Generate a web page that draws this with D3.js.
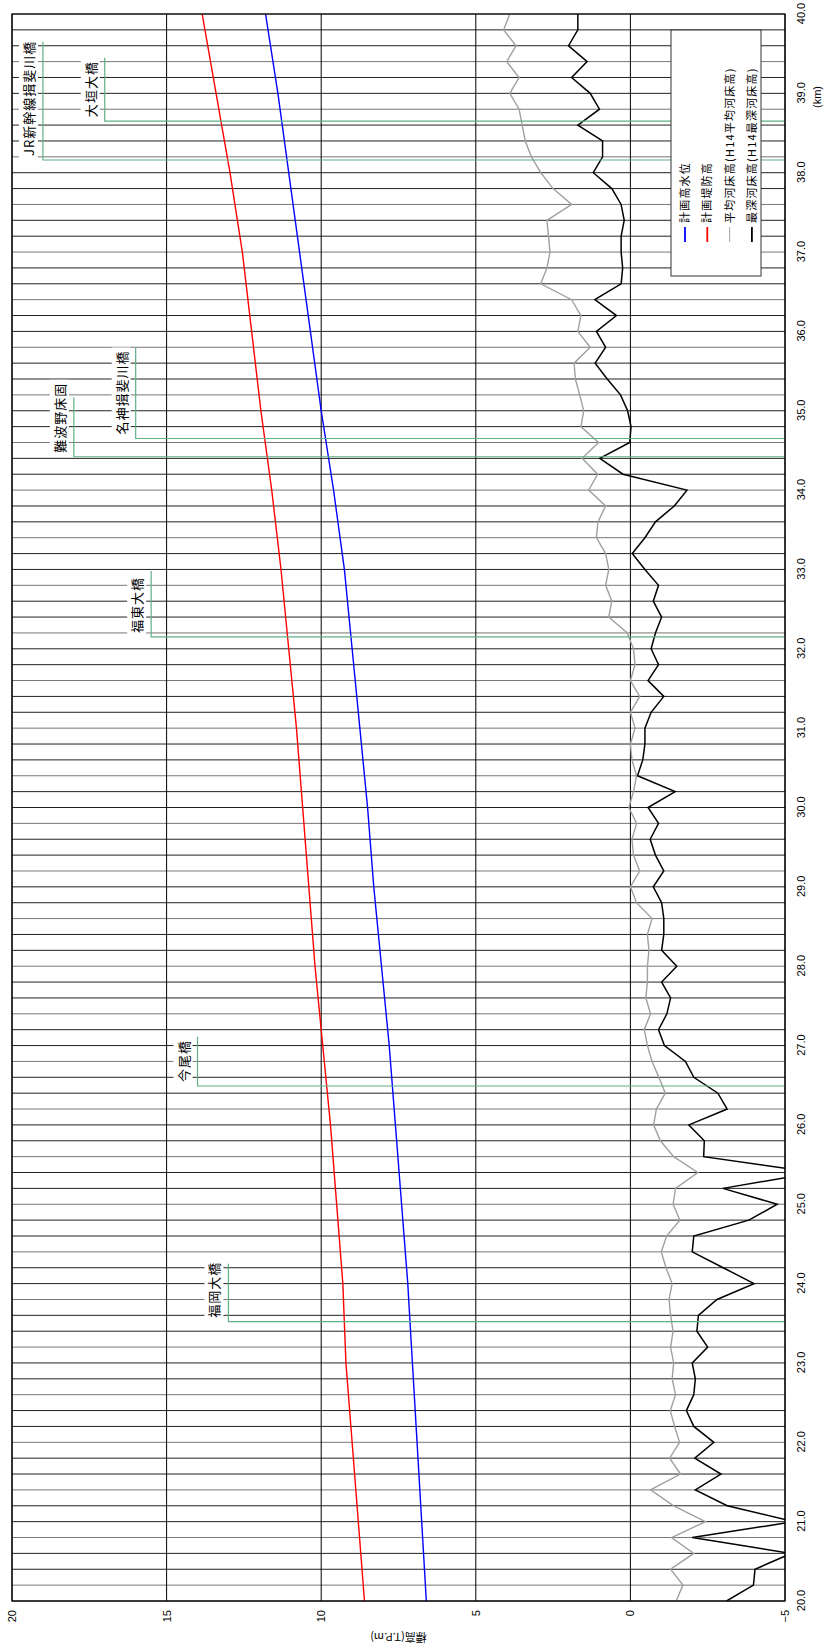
<!DOCTYPE html>
<html>
<head>
<meta charset="utf-8">
<title>縦断図</title>
<script src="https://d3js.org/d3.v7.min.js"></script>
<style>
  body { margin: 0; background: #fff; }
  svg text { font-family: "Liberation Sans", Arial, sans-serif; fill: #000; }
  .jp { font-family: "Noto Sans CJK JP", sans-serif; }
</style>
</head>
<body>
<script>
// 距離標 (km) 0.2km毎
const kmStations = [
  20.0, 20.2, 20.4, 20.6, 20.8, 21.0, 21.2, 21.4, 21.6, 21.8,
  22.0, 22.2, 22.4, 22.6, 22.8, 23.0, 23.2, 23.4, 23.6, 23.8,
  24.0, 24.2, 24.4, 24.6, 24.8, 25.0, 25.2, 25.4, 25.6, 25.8,
  26.0, 26.2, 26.4, 26.6, 26.8, 27.0, 27.2, 27.4, 27.6, 27.8,
  28.0, 28.2, 28.4, 28.6, 28.8, 29.0, 29.2, 29.4, 29.6, 29.8,
  30.0, 30.2, 30.4, 30.6, 30.8, 31.0, 31.2, 31.4, 31.6, 31.8,
  32.0, 32.2, 32.4, 32.6, 32.8, 33.0, 33.2, 33.4, 33.6, 33.8,
  34.0, 34.2, 34.4, 34.6, 34.8, 35.0, 35.2, 35.4, 35.6, 35.8,
  36.0, 36.2, 36.4, 36.6, 36.8, 37.0, 37.2, 37.4, 37.6, 37.8,
  38.0, 38.2, 38.4, 38.6, 38.8, 39.0, 39.2, 39.4, 39.6, 39.8,
  40.0
];
// 平均河床高 (H14)
const avgBed = [
  -1.48, -1.70, -1.30, -2.05, -1.33, -2.43, -1.40, -0.65, -1.62, -1.27,
  -1.59, -1.43, -1.29, -1.46, -1.35, -1.40, -1.30, -1.38, -1.30, -1.25,
  -1.35, -1.15, -1.00, -1.17, -1.60, -1.38, -1.46, -2.18, -1.40, -0.97,
  -0.75, -0.84, -1.13, -0.92, -0.70, -0.55, -0.45, -0.65, -0.50, -0.55,
  -0.55, -0.60, -0.55, -0.70, -0.20, 0.00, -0.30, -0.10, -0.05, -0.20,
  0.05, -0.10, -0.20, -0.05, 0.00, -0.15, 0.00, -0.30, 0.00, -0.15,
  -0.10, 0.10, 0.70, 0.60, 0.80, 0.70, 0.80, 1.10, 1.05, 0.80,
  1.35, 1.06, 1.56, 1.03, 1.60, 1.51, 1.64, 1.78, 1.82, 1.30,
  1.70, 1.60, 1.90, 2.90, 2.70, 2.60, 2.65, 2.70, 1.90, 2.50,
  2.90, 3.20, 3.40, 3.50, 3.60, 3.90, 3.60, 4.00, 3.70, 4.10,
  3.90
];
// 最深河床高 (H14)
const deepBed = [
  -3.11, -3.98, -4.03, -5.20, -2.00, -5.30, -3.13, -2.10, -2.93, -2.08,
  -2.70, -2.05, -1.81, -2.05, -2.10, -2.00, -2.50, -2.15, -2.20, -2.80,
  -4.00, -3.00, -2.00, -2.05, -3.83, -4.75, -2.99, -6.00, -2.37, -2.39,
  -1.89, -3.13, -2.83, -2.05, -1.78, -1.10, -0.91, -1.18, -1.30, -1.01,
  -1.50, -1.01, -1.08, -1.08, -1.01, -0.74, -1.08, -0.81, -0.64, -0.91,
  -0.57, -1.45, -0.23, -0.40, -0.47, -0.47, -0.67, -1.08, -0.57, -0.91,
  -0.67, -0.81, -1.01, -0.74, -0.91, -0.47, -0.06, -0.47, -0.81, -1.42,
  -1.83, 0.24, 0.99, 0.02, -0.02, 0.09, 0.32, 0.75, 1.14, 0.80,
  1.10, 0.45, 1.15, 0.30, 0.25, 0.30, 0.30, 0.20, 0.30, 0.60,
  1.20, 0.90, 0.90, 1.70, 1.00, 1.30, 1.90, 1.40, 2.00, 1.70,
  1.70
];
// 計画値 (1km毎)
const planKm = [20, 21, 22, 23, 24, 25, 26, 27, 28, 29, 30, 31, 32, 33, 34, 35, 36, 37, 38, 39, 40];
const planLevee = [8.6, 8.8, 9.0, 9.2, 9.3, 9.5, 9.7, 9.95, 10.2, 10.4, 10.6, 10.8, 11.05, 11.3, 11.6, 11.95, 12.25, 12.55, 12.95, 13.4, 13.85];
const planHWL = [6.6, 6.75, 6.9, 7.05, 7.2, 7.4, 7.6, 7.8, 8.05, 8.3, 8.5, 8.75, 9.0, 9.25, 9.6, 10.0, 10.35, 10.7, 11.05, 11.4, 11.8];

const kmTicks = [20, 21, 22, 23, 24, 25, 26, 27, 28, 29, 30, 31, 32, 33, 34, 35, 36, 37, 38, 39, 40];
const elevTicks = [20, 15, 10, 5, 0, -5];

// 横断構造物
const bridgeNames = ["JR新幹線揖斐川橋", "大垣大橋", "難波野床固", "名神揖斐川橋", "福東大橋", "今尾橋", "福岡大橋"];
const bridgeKm    = [38.16, 38.65, 34.42, 34.65, 32.15, 26.49, 23.52];
const bridgeKmEnd = [39.65, 39.45, 35.17, 35.79, 32.98, 27.11, 24.25];
const bridgeElev  = [19, 17, 18, 16, 15.5, 14, 13];

const legendNames = ["計画高水位", "計画堤防高", "平均河床高(H14平均河床高)", "最深河床高(H14最深河床高)"];
const legendColors = ["#0000ff", "#ff0000", "#b4b4b4", "#000000"];

const W = 833, H = 1652;
// 回転前（横向き）の座標系での枠
const frame = {left: 51, right: 1638, top: 12, bottom: 785};

const svg = d3.select("body").append("svg")
  .attr("width", W)
  .attr("height", H);

// 図全体を反時計回りに90度回転
const g = svg.append("g")
  .attr("transform", "translate(0," + H + ") rotate(-90)");

const x = d3.scaleLinear().domain([20, 40]).range([frame.left, frame.right]);
const y = d3.scaleLinear().domain([-5, 20]).range([frame.bottom, frame.top]);

g.append("clipPath").attr("id", "plotClip")
  .append("rect")
  .attr("x", frame.left).attr("y", frame.top)
  .attr("width", frame.right - frame.left)
  .attr("height", frame.bottom - frame.top);

// 距離標の縦線
g.append("g").selectAll("line")
  .data(kmStations)
  .enter().append("line")
  .attr("x1", d => x(d)).attr("x2", d => x(d))
  .attr("y1", frame.top).attr("y2", frame.bottom)
  .attr("stroke", (d, i) => i % 3 === 1 ? "#777" : "#222")
  .attr("stroke-width", 1);

// 標高の横線
g.append("g").selectAll("line")
  .data(elevTicks)
  .enter().append("line")
  .attr("x1", frame.left).attr("x2", frame.right)
  .attr("y1", d => y(d)).attr("y2", d => y(d))
  .attr("stroke", "#000")
  .attr("stroke-width", 1);

const plot = g.append("g").attr("clip-path", "url(#plotClip)");

const bedLine = d3.line()
  .x((d, i) => x(kmStations[i]))
  .y(d => y(d));
const planLine = d3.line()
  .x((d, i) => x(planKm[i]))
  .y(d => y(d));

plot.append("path").datum(avgBed)
  .attr("d", bedLine)
  .attr("fill", "none")
  .attr("stroke", "#a0a0a0")
  .attr("stroke-width", 1.4);

plot.append("path").datum(deepBed)
  .attr("d", bedLine)
  .attr("fill", "none")
  .attr("stroke", "#000")
  .attr("stroke-width", 1.5);

plot.append("path").datum(planLevee)
  .attr("d", planLine)
  .attr("fill", "none")
  .attr("stroke", "#ff0000")
  .attr("stroke-width", 1.4);

plot.append("path").datum(planHWL)
  .attr("d", planLine)
  .attr("fill", "none")
  .attr("stroke", "#0000ff")
  .attr("stroke-width", 1.4);

// 橋梁など
bridgeNames.forEach(function(name, i) {
  const bx = x(bridgeKm[i]);
  const by = y(bridgeElev[i]);
  g.append("path")
    .attr("d", "M" + bx + "," + frame.bottom + "V" + by + "H" + x(bridgeKmEnd[i]))
    .attr("fill", "none")
    .attr("stroke", "#5fb086")
    .attr("stroke-width", 1.2);
  const bg = g.append("rect").attr("fill", "#fff");
  const t = g.append("text")
    .attr("class", "jp")
    .attr("x", bx + 4)
    .attr("y", by - 9)
    .attr("font-size", 13)
    .attr("letter-spacing", 1)
    .text(name);
  const bb = t.node().getBBox();
  bg.attr("x", bb.x - 3).attr("y", bb.y)
    .attr("width", bb.width + 6).attr("height", bb.height);
});

// 枠
g.append("rect")
  .attr("x", frame.left).attr("y", frame.top)
  .attr("width", frame.right - frame.left)
  .attr("height", frame.bottom - frame.top)
  .attr("fill", "none")
  .attr("stroke", "#000")
  .attr("stroke-width", 1.2);

// 軸
const xAxis = g.append("g")
  .attr("transform", "translate(0," + frame.bottom + ")")
  .call(d3.axisBottom(x).tickValues(kmTicks).tickFormat(d3.format(".1f")).tickSize(0).tickPadding(12));
xAxis.select(".domain").remove();
xAxis.selectAll("text").attr("font-size", 11).attr("font-family", "Liberation Sans, Arial, sans-serif");

const yAxis = g.append("g")
  .attr("transform", "translate(" + frame.left + ",0)")
  .call(d3.axisLeft(y).tickValues(elevTicks).tickFormat(d3.format("d")).tickSize(0).tickPadding(9));
yAxis.select(".domain").remove();
yAxis.selectAll("text").attr("font-size", 11).attr("font-family", "Liberation Sans, Arial, sans-serif");

g.append("text")
  .attr("x", 1555).attr("y", 821)
  .attr("text-anchor", "middle")
  .attr("font-size", 11)
  .text("(km)");

g.append("text")
  .attr("class", "jp")
  .attr("transform", "translate(19," + ((frame.top + frame.bottom) / 2) + ") rotate(-90)")
  .attr("text-anchor", "middle")
  .attr("font-size", 11)
  .text("標高(T.P.m)");

// 凡例
const legend = g.append("g");
legend.append("rect")
  .attr("x", 1376).attr("y", 671)
  .attr("width", 246).attr("height", 90)
  .attr("fill", "#fff")
  .attr("stroke", "#333")
  .attr("stroke-width", 1);
legendNames.forEach(function(name, i) {
  const ly = 685 + i * 22.3;
  legend.append("line")
    .attr("x1", 1410).attr("x2", 1425)
    .attr("y1", ly).attr("y2", ly)
    .attr("stroke", legendColors[i])
    .attr("stroke-width", i === 2 ? 1.2 : 1.8);
  legend.append("text")
    .attr("class", "jp")
    .attr("x", 1429).attr("y", ly + 4)
    .attr("font-size", 11)
    .attr("letter-spacing", 1.2)
    .text(name);
});
</script>
</body>
</html>
